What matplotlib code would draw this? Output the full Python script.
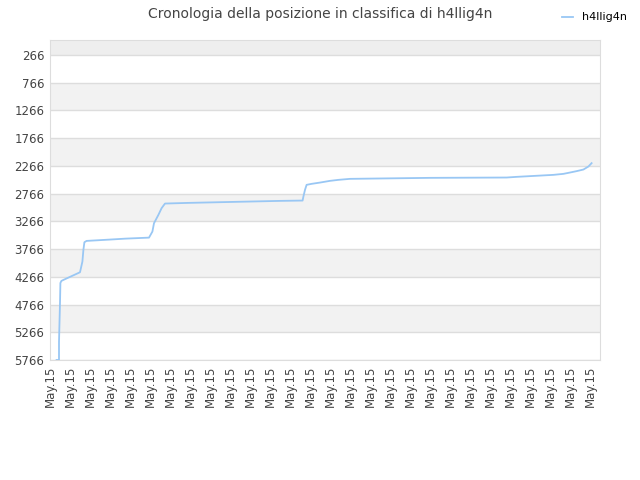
import numpy as np
import matplotlib
matplotlib.use('Agg')
import matplotlib.pyplot as plt

# posizioni (x in unità di tick, y = posizione in classifica)
tempo = [0.33, 0.45, 0.45, 0.5, 0.52, 0.57, 0.67, 1.5, 1.62, 1.67, 1.72, 1.83,
         2.95, 3.78, 4.95, 5.12, 5.2, 5.42, 5.58, 5.75, 6.92, 9.2, 11.5, 12.63,
         12.67, 12.75, 12.83, 13.08, 13.5, 14.0, 14.42, 15.0, 19.0, 22.83, 23.33,
         24.25, 25.17, 25.67, 26.0, 26.33, 26.67, 26.92, 27.08]
posizione = [5766, 5766, 5441, 4738, 4378, 4341, 4323, 4185, 3993, 3782, 3644, 3620,
             3597, 3579, 3561, 3452, 3301, 3151, 3030, 2947, 2935, 2917, 2899, 2893,
             2821, 2700, 2610, 2592, 2569, 2538, 2520, 2502, 2484, 2478, 2466,
             2448, 2430, 2412, 2388, 2363, 2334, 2280, 2219]
etichette_x = ['May.15'] * 28
tick_y = [266, 766, 1266, 1766, 2266, 2766, 3266, 3766, 4266, 4766, 5266, 5766]

fig = plt.figure(figsize=(6.4, 4.8), dpi=100)
ax = fig.add_axes([50 / 640, 1 - 360 / 480, 550 / 640, 320 / 480])

# bande alternate
ax.axhspan(0, 266, color='#eeeeee', zorder=0, lw=0)
for i in range(len(tick_y) - 1):
    if i % 2 == 1:
        ax.axhspan(tick_y[i], tick_y[i + 1], color='#f2f2f2', zorder=0, lw=0)
for v in tick_y:
    ax.axhline(v, color='#dddddd', lw=1, zorder=1)

ax.plot(tempo, posizione, color='#99c7f4', lw=1.3, label='h4llig4n', zorder=3)

ax.set_xlim(0, 27.5)
ax.set_ylim(5766, 0)
ax.set_yticks(tick_y)
ax.set_yticklabels([str(v) for v in tick_y], fontsize=8.5, color='#444444')
ax.set_xticks(range(len(etichette_x)))
ax.set_xticklabels(etichette_x, rotation=90, fontsize=8.5, color='#444444')
ax.tick_params(length=0, pad=4)
for s in ax.spines.values():
    s.set_color('#dddddd')

fig.suptitle('Cronologia della posizione in classifica di h4llig4n', y=0.985,
             fontsize=10, color='#444444')
fig.legend(loc='upper right', bbox_to_anchor=(0.995, 0.995), frameon=False,
           fontsize=8, handlelength=1.0, handletextpad=0.8)

fig.savefig('out.png')
